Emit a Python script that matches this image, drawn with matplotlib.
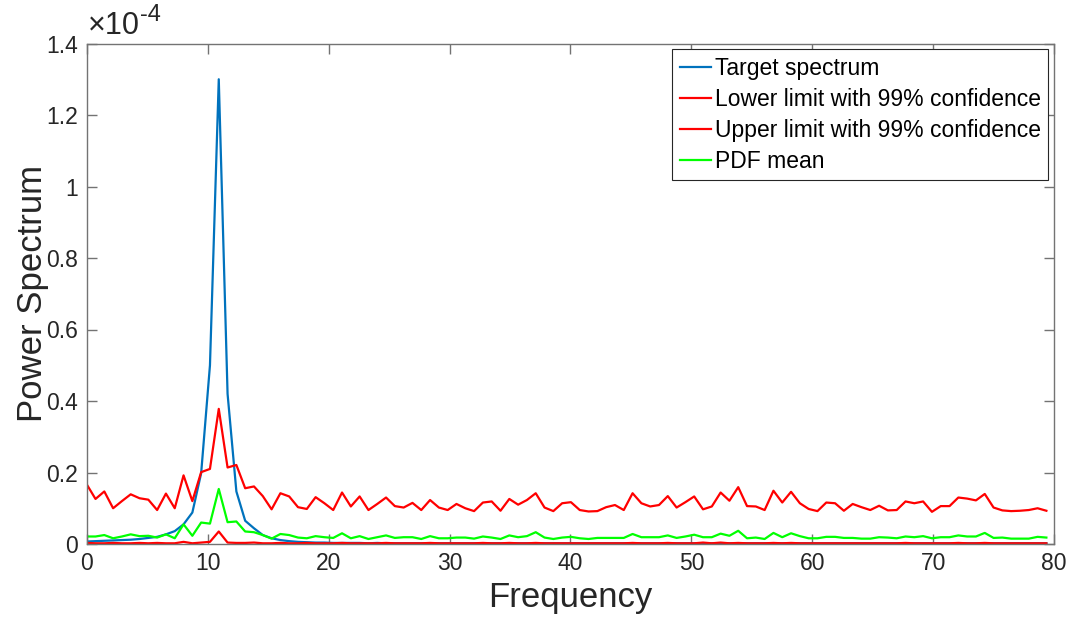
"""
Power spectrum of the target signal with 99% confidence limits and PDF mean
"""
import numpy as np
import matplotlib.pyplot as plt

# frequency grid (uniform bins)
n_bins = 110
df = 0.728

# all spectra in units of 1e-4
target = [0.007, 0.008, 0.009, 0.010, 0.011, 0.012, 0.014, 0.017, 0.020, 0.027,
          0.036, 0.055, 0.088, 0.198, 0.500, 1.300, 0.420, 0.147, 0.065, 0.044,
          0.025, 0.016, 0.011, 0.008, 0.006, 0.005, 0.004, 0.004, 0.003, 0.003,
          0.003, 0.003, 0.002, 0.003, 0.002, 0.002, 0.002, 0.002, 0.002, 0.002,
          0.002, 0.002, 0.002, 0.002, 0.002, 0.002, 0.002, 0.002, 0.002, 0.002,
          0.002, 0.002, 0.002, 0.002, 0.002, 0.002, 0.002, 0.002, 0.002, 0.002,
          0.002, 0.002, 0.002, 0.002, 0.002, 0.002, 0.002, 0.002, 0.002, 0.002,
          0.002, 0.002, 0.002, 0.002, 0.002, 0.002, 0.002, 0.002, 0.002, 0.002,
          0.002, 0.002, 0.002, 0.002, 0.002, 0.002, 0.002, 0.002, 0.002, 0.002,
          0.002, 0.002, 0.002, 0.002, 0.002, 0.002, 0.002, 0.002, 0.002, 0.002,
          0.002, 0.002, 0.002, 0.002, 0.002, 0.002, 0.002, 0.002, 0.002, 0.002]

lower = [0.003, 0.002, 0.002, 0.003, 0.002, 0.002, 0.003, 0.002, 0.003, 0.002,
         0.002, 0.006, 0.002, 0.004, 0.006, 0.035, 0.004, 0.003, 0.003, 0.004,
         0.002, 0.002, 0.003, 0.002, 0.002, 0.003, 0.002, 0.002, 0.002, 0.003,
         0.002, 0.002, 0.002, 0.002, 0.003, 0.002, 0.002, 0.002, 0.002, 0.003,
         0.002, 0.002, 0.002, 0.002, 0.002, 0.003, 0.002, 0.002, 0.003, 0.002,
         0.002, 0.003, 0.002, 0.002, 0.002, 0.002, 0.002, 0.002, 0.002, 0.002,
         0.002, 0.002, 0.003, 0.002, 0.002, 0.002, 0.003, 0.002, 0.002, 0.002,
         0.004, 0.002, 0.004, 0.002, 0.003, 0.002, 0.002, 0.002, 0.003, 0.002,
         0.003, 0.002, 0.002, 0.002, 0.002, 0.002, 0.002, 0.002, 0.002, 0.002,
         0.002, 0.002, 0.002, 0.003, 0.002, 0.002, 0.002, 0.002, 0.002, 0.003,
         0.002, 0.002, 0.003, 0.002, 0.002, 0.002, 0.002, 0.002, 0.002, 0.002]

upper = [0.167, 0.126, 0.147, 0.100, 0.120, 0.139, 0.128, 0.124, 0.095, 0.141,
         0.100, 0.192, 0.120, 0.201, 0.210, 0.378, 0.214, 0.221, 0.156, 0.161,
         0.134, 0.097, 0.142, 0.133, 0.103, 0.098, 0.131, 0.114, 0.095, 0.144,
         0.105, 0.133, 0.095, 0.112, 0.130, 0.106, 0.102, 0.115, 0.095, 0.123,
         0.102, 0.095, 0.112, 0.100, 0.092, 0.116, 0.119, 0.093, 0.126, 0.110,
         0.123, 0.142, 0.102, 0.092, 0.114, 0.117, 0.095, 0.091, 0.092, 0.103,
         0.109, 0.095, 0.142, 0.114, 0.105, 0.109, 0.134, 0.102, 0.117, 0.133,
         0.097, 0.105, 0.144, 0.121, 0.159, 0.106, 0.105, 0.095, 0.149, 0.116,
         0.146, 0.114, 0.098, 0.092, 0.116, 0.114, 0.093, 0.112, 0.103, 0.095,
         0.107, 0.094, 0.095, 0.119, 0.114, 0.119, 0.090, 0.106, 0.106, 0.130,
         0.127, 0.122, 0.140, 0.102, 0.094, 0.092, 0.093, 0.095, 0.100, 0.093]

pdf_mean = [0.021, 0.021, 0.025, 0.016, 0.021, 0.027, 0.022, 0.023, 0.018, 0.027,
            0.016, 0.055, 0.023, 0.060, 0.057, 0.154, 0.061, 0.063, 0.035, 0.033,
            0.025, 0.015, 0.028, 0.025, 0.018, 0.016, 0.022, 0.019, 0.017, 0.030,
            0.016, 0.022, 0.014, 0.019, 0.024, 0.017, 0.019, 0.019, 0.014, 0.022,
            0.016, 0.016, 0.018, 0.018, 0.015, 0.021, 0.018, 0.014, 0.024, 0.019,
            0.022, 0.033, 0.018, 0.014, 0.018, 0.020, 0.016, 0.014, 0.017, 0.017,
            0.017, 0.017, 0.028, 0.019, 0.019, 0.019, 0.024, 0.017, 0.021, 0.026,
            0.019, 0.019, 0.029, 0.023, 0.037, 0.016, 0.018, 0.014, 0.031, 0.019,
            0.030, 0.022, 0.016, 0.016, 0.020, 0.020, 0.017, 0.017, 0.015, 0.015,
            0.019, 0.018, 0.016, 0.021, 0.019, 0.022, 0.016, 0.019, 0.019, 0.024,
            0.021, 0.021, 0.031, 0.017, 0.018, 0.015, 0.015, 0.015, 0.020, 0.018]

labels = ['Target spectrum', 'Lower limit with 99% confidence',
          'Upper limit with 99% confidence', 'PDF mean']
colors = ['#0072BD', '#FF0000', '#FF0000', '#00FF00']


def main():
    plt.rcParams['font.family'] = ['Liberation Sans', 'DejaVu Sans']

    freq = np.arange(n_bins) * df

    fig = plt.figure(figsize=(10.73, 6.25), dpi=100)
    ax = fig.add_axes([0.0808, 0.1296, 0.9017, 0.8008])

    for series, label, color in zip([target, lower, upper, pdf_mean], labels, colors):
        ax.plot(freq, series, color=color, linewidth=1.6, label=label)

    ax.set_xlim(0, 80)
    ax.set_ylim(0, 1.4)
    ax.set_xticks(np.arange(0, 81, 10))
    ax.set_yticks(np.arange(0, 1.41, 0.2))
    ax.set_yticklabels(['%g' % round(v, 1) for v in np.arange(0, 1.41, 0.2)])

    for spine in ax.spines.values():
        spine.set_color('0.45')
        spine.set_linewidth(1.0)
    ax.tick_params(direction='in', length=7, width=1.0, color='0.45',
                   labelsize=16.5, labelcolor='#262626', top=True, right=True, pad=6)

    ax.set_xlabel('Frequency', fontsize=25, color='#262626', labelpad=4)
    ax.set_ylabel('Power Spectrum', fontsize=25, color='#262626', labelpad=-2)

    # MATLAB style exponent above the y axis
    base = ax.text(0.001, 1.004, '\u00d710', transform=ax.transAxes,
                   fontsize=22, color='#262626', ha='left', va='bottom')
    ax.annotate('-4', xy=(1.0, 0.88), xycoords=base, fontsize=17,
                color='#262626', ha='left', va='center')

    leg = ax.legend(loc='upper right', fontsize=16.5, fancybox=False,
                    edgecolor='#262626', framealpha=1, handlelength=1.35,
                    handletextpad=0.2, borderaxespad=0.25, borderpad=0.32,
                    labelspacing=0.35)
    leg.get_frame().set_linewidth(0.8)

    plt.savefig('out.png', dpi=100)
    plt.close()


if __name__ == '__main__':
    main()
